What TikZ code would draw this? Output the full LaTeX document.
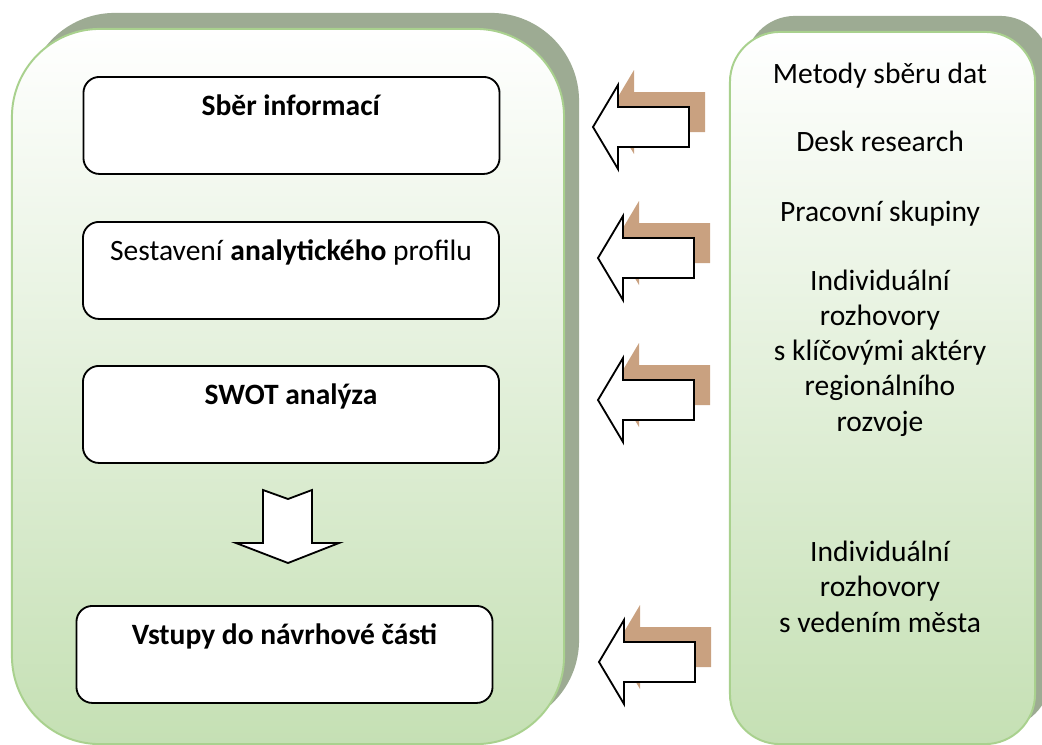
\documentclass[tikz,border=0pt]{standalone}
\usepackage{fontspec}
\setmainfont{Carlito}
\usepackage{xcolor}
\usetikzlibrary{positioning,calc,shadows}
\definecolor{panelgreen}{HTML}{C5E0B4}
\definecolor{panelline}{HTML}{A9D18E}
\definecolor{panelshade}{HTML}{9DAB93}
\definecolor{arrowshade}{HTML}{C9A180}

\tikzset{
  panel/.style={draw=panelline, line width=1.4pt, top color=white, bottom color=panelgreen, inner sep=0pt,
    drop shadow={shadow xshift=0.375cm, shadow yshift=0.4cm, opacity=1, fill=panelshade}},
  stagebox/.style={draw=black, line width=1.3pt, rounded corners=0.4cm, fill=white, minimum width=10.4cm,
    inner ysep=0pt, text height=0.975cm, text depth=1.45cm, anchor=north, font=\fontsize{21}{24}\selectfont},
  method/.style={align=center, anchor=base, font=\fontsize{21}{25}\selectfont},
}

\begin{document}
\begin{tikzpicture}[x=0.025cm,y=-0.025cm]
  \useasboundingbox (0,0) rectangle (1042,745);

  \node[panel, rounded corners=2.2cm, minimum width=13.8cm, minimum height=17.875cm] (stages) at (288,386.5) {};
  \node[panel, rounded corners=1.25cm, minimum width=7.625cm, minimum height=17.8cm] (methods) at (882.5,388) {};

  \node[stagebox] (sber) at (291.5,76) {\textbf{Sběr informací}};
  \node[stagebox] (profil) at (291,221) {Sestavení \textbf{analytického} profilu};
  \node[stagebox] (swot) at (291,365) {\textbf{SWOT analýza}};
  \node[stagebox] (vstupy) at (284.5,605) {\textbf{Vstupy do návrhové části}};

  \draw[fill=white, line width=1.3pt] (263,490) -- (288,499) -- (312,490) -- (312,543) -- (339,543)
    -- (288,563) -- (236,543) -- (263,543) -- cycle;

  \foreach \tx/\ty in {593/127, 598/258, 598/400, 599/662}{
    \fill[arrowshade, shift={(\tx+16,\ty-15)}] (0,0) -- (25,-42) -- (25,-20) -- (96,-20) -- (96,20) -- (25,20) -- (25,42) -- cycle;
    \draw[fill=white, line width=1.3pt, shift={(\tx,\ty)}] (0,0) -- (25,-42) -- (25,-20) -- (96,-20) -- (96,20) -- (25,20) -- (25,42) -- cycle;
  }

  \node[method] (metody) at (880,83) {Metody sběru dat};
  \node[method] (desk) at (880,151) {Desk research};
  \node[method] (skupiny) at (880,221) {Pracovní skupiny};
  \node[method] (akteri) at (880,431) {Individuální\\rozhovory\\s klíčovými aktéry\\regionálního\\rozvoje};
  \node[method] (vedeni) at (880,632) {Individuální\\rozhovory\\s vedením města};
\end{tikzpicture}
\end{document}
